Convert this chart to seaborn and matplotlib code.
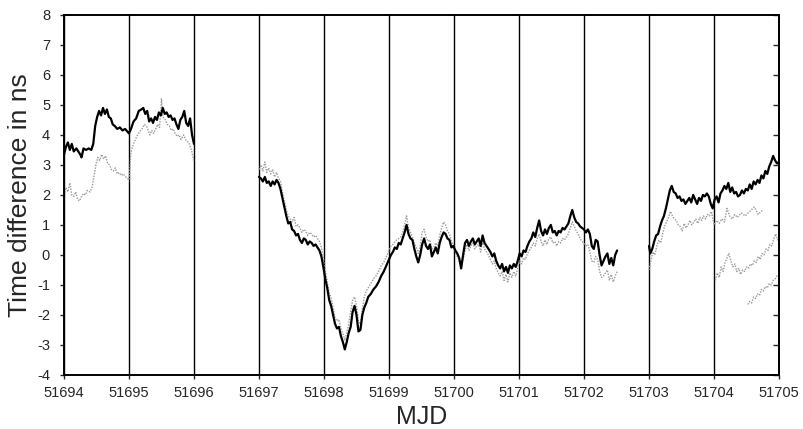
import numpy as np
import pandas as pd
import seaborn as sns
import matplotlib.pyplot as plt

# MJD offsets from 51694 and time difference (ns)
MJD0 = 51694

# black trace, three pieces
black_a = [(0.00, 3.35), (0.03, 3.60), (0.06, 3.75), (0.09, 3.50), (0.12, 3.70), (0.15, 3.45),
           (0.19, 3.55), (0.22, 3.45), (0.25, 3.35), (0.27, 3.25), (0.30, 3.55), (0.34, 3.50),
           (0.38, 3.55), (0.42, 3.50), (0.45, 3.70), (0.48, 4.30), (0.51, 4.60), (0.54, 4.80),
           (0.57, 4.65), (0.60, 4.90), (0.63, 4.70), (0.66, 4.85), (0.69, 4.60), (0.72, 4.55),
           (0.75, 4.35), (0.78, 4.30), (0.82, 4.20), (0.86, 4.25), (0.90, 4.15), (0.94, 4.20),
           (0.98, 4.10), (1.00, 4.05), (1.03, 4.20), (1.07, 4.45), (1.11, 4.55), (1.15, 4.80),
           (1.19, 4.85), (1.22, 4.90), (1.25, 4.70), (1.28, 4.80), (1.31, 4.45), (1.34, 4.55),
           (1.37, 4.40), (1.40, 4.60), (1.43, 4.50), (1.46, 4.75), (1.49, 4.65), (1.52, 4.90),
           (1.55, 4.70), (1.58, 4.75), (1.61, 4.60), (1.64, 4.65), (1.67, 4.50), (1.70, 4.55),
           (1.73, 4.35), (1.76, 4.20), (1.79, 4.50), (1.82, 4.60), (1.85, 4.80), (1.88, 4.40),
           (1.91, 4.30), (1.94, 4.55), (1.97, 4.00), (2.00, 3.70)]

black_b = [(3.00, 2.60), (3.03, 2.55), (3.06, 2.45), (3.09, 2.60), (3.12, 2.40), (3.15, 2.45),
           (3.18, 2.30), (3.21, 2.45), (3.24, 2.35), (3.27, 2.50), (3.30, 2.40), (3.33, 2.20),
           (3.36, 1.90), (3.39, 1.60), (3.42, 1.30), (3.45, 1.05), (3.48, 1.10), (3.51, 0.85),
           (3.54, 0.80), (3.57, 0.65), (3.60, 0.70), (3.63, 0.50), (3.66, 0.40), (3.69, 0.55),
           (3.72, 0.50), (3.75, 0.35), (3.78, 0.45), (3.81, 0.40), (3.84, 0.30), (3.87, 0.35),
           (3.90, 0.25), (3.93, 0.15), (3.96, -0.05), (3.99, -0.40), (4.02, -0.80), (4.05, -1.10),
           (4.08, -1.50), (4.11, -1.70), (4.14, -2.00), (4.17, -2.30), (4.20, -2.45), (4.23, -2.40),
           (4.26, -2.70), (4.29, -2.90), (4.32, -3.15), (4.35, -2.90), (4.38, -2.60), (4.41, -2.40),
           (4.44, -1.90), (4.47, -1.70), (4.50, -2.00), (4.53, -2.55), (4.56, -2.50), (4.59, -2.00),
           (4.62, -1.75), (4.65, -1.60), (4.68, -1.40), (4.72, -1.30), (4.76, -1.15), (4.80, -1.05),
           (4.84, -0.90), (4.88, -0.70), (4.92, -0.55), (4.96, -0.35), (5.00, -0.15), (5.03, 0.00),
           (5.06, 0.10), (5.09, 0.25), (5.12, 0.20), (5.15, 0.40), (5.18, 0.35), (5.21, 0.55),
           (5.24, 0.75), (5.27, 1.00), (5.30, 0.70), (5.33, 0.55), (5.36, 0.50), (5.39, 0.20),
           (5.42, -0.05), (5.45, -0.25), (5.48, 0.00), (5.51, 0.35), (5.54, 0.55), (5.57, 0.30),
           (5.60, 0.20), (5.63, 0.35), (5.66, -0.05), (5.69, 0.10), (5.72, 0.25), (5.75, 0.05),
           (5.78, 0.40), (5.81, 0.60), (5.84, 0.75), (5.87, 0.70), (5.90, 0.55), (5.93, 0.50),
           (5.96, 0.25), (5.99, 0.30), (6.02, 0.15), (6.05, 0.05), (6.08, -0.10), (6.11, -0.45),
           (6.14, 0.00), (6.17, 0.40), (6.20, 0.50), (6.23, 0.30), (6.26, 0.45), (6.29, 0.55),
           (6.32, 0.35), (6.35, 0.45), (6.38, 0.55), (6.41, 0.30), (6.44, 0.65), (6.47, 0.40),
           (6.50, 0.30), (6.53, 0.20), (6.56, 0.10), (6.59, -0.05), (6.62, 0.05), (6.65, -0.20),
           (6.68, -0.35), (6.71, -0.45), (6.74, -0.30), (6.77, -0.55), (6.80, -0.40), (6.83, -0.60),
           (6.86, -0.35), (6.89, -0.45), (6.92, -0.30), (6.95, -0.40), (6.98, -0.20), (7.01, 0.05),
           (7.04, -0.05), (7.07, 0.15), (7.10, 0.10), (7.13, 0.30), (7.16, 0.45), (7.19, 0.55),
           (7.22, 0.75), (7.25, 0.60), (7.28, 0.90), (7.31, 1.15), (7.34, 0.80), (7.37, 0.65),
           (7.40, 0.85), (7.43, 0.70), (7.46, 0.90), (7.49, 1.00), (7.52, 0.75), (7.55, 0.80),
           (7.58, 0.65), (7.61, 0.80), (7.64, 0.75), (7.67, 0.90), (7.70, 0.85), (7.73, 0.95),
           (7.76, 1.05), (7.79, 1.30), (7.82, 1.50), (7.85, 1.25), (7.88, 1.10), (7.91, 1.05),
           (7.94, 0.95), (7.97, 0.90), (8.00, 0.85), (8.03, 0.75), (8.06, 0.85), (8.09, 0.70),
           (8.12, 0.30), (8.15, 0.20), (8.18, 0.50), (8.21, 0.45), (8.24, 0.00), (8.27, -0.35),
           (8.30, -0.20), (8.33, -0.05), (8.36, 0.05), (8.39, -0.30), (8.42, -0.10), (8.45, -0.35),
           (8.48, 0.00), (8.51, 0.15)]

black_c = [(9.00, 0.30), (9.02, 0.05), (9.05, 0.20), (9.08, 0.45), (9.11, 0.65), (9.14, 0.70),
           (9.17, 0.95), (9.20, 1.15), (9.23, 1.30), (9.26, 1.55), (9.29, 1.85), (9.32, 2.15),
           (9.35, 2.30), (9.38, 2.10), (9.41, 2.05), (9.44, 1.90), (9.47, 1.95), (9.50, 1.80),
           (9.53, 1.85), (9.56, 1.70), (9.59, 1.80), (9.62, 1.90), (9.65, 1.75), (9.68, 2.00),
           (9.71, 1.85), (9.74, 1.70), (9.77, 1.90), (9.80, 1.80), (9.83, 2.00), (9.86, 1.95),
           (9.89, 2.05), (9.92, 1.95), (9.95, 1.70), (9.98, 1.55), (10.01, 1.85), (10.04, 1.95),
           (10.07, 1.75), (10.10, 2.05), (10.13, 2.15), (10.16, 2.30), (10.19, 2.20), (10.22, 2.40),
           (10.25, 2.10), (10.28, 2.25), (10.31, 2.05), (10.34, 2.10), (10.37, 1.95), (10.40, 2.00),
           (10.43, 2.15), (10.46, 2.05), (10.49, 2.20), (10.52, 2.15), (10.55, 2.35), (10.58, 2.20),
           (10.61, 2.45), (10.64, 2.35), (10.67, 2.50), (10.70, 2.40), (10.73, 2.65), (10.76, 2.55),
           (10.79, 2.80), (10.82, 2.70), (10.85, 2.95), (10.88, 3.10), (10.91, 3.30), (10.94, 3.15),
           (10.97, 3.05), (11.00, 3.10)]

# grey traces
grey_a = [(0.00, 1.90), (0.03, 2.25), (0.06, 2.10), (0.09, 2.40), (0.12, 2.00), (0.15, 1.95),
          (0.18, 2.10), (0.21, 1.85), (0.24, 1.80), (0.27, 1.95), (0.30, 2.05), (0.33, 2.00),
          (0.36, 2.15), (0.40, 2.10), (0.43, 2.25), (0.46, 2.60), (0.49, 3.00), (0.52, 3.25),
          (0.55, 3.15), (0.58, 3.35), (0.61, 3.20), (0.64, 3.30), (0.67, 3.05), (0.70, 3.00),
          (0.73, 2.85), (0.76, 2.80), (0.79, 2.90), (0.82, 2.70), (0.85, 2.75), (0.88, 2.65),
          (0.91, 2.70), (0.95, 2.60), (0.98, 2.55), (1.00, 2.50), (1.03, 3.40), (1.06, 3.65),
          (1.09, 3.80), (1.12, 3.95), (1.16, 4.10), (1.20, 4.20), (1.24, 4.35), (1.28, 4.25),
          (1.32, 4.00), (1.35, 4.15), (1.38, 4.05), (1.41, 4.20), (1.44, 4.35), (1.47, 4.25),
          (1.49, 4.90), (1.50, 5.20), (1.52, 4.60), (1.56, 4.50), (1.59, 4.35), (1.62, 4.30),
          (1.65, 4.15), (1.68, 4.20), (1.71, 4.05), (1.74, 3.95), (1.77, 4.00), (1.80, 3.85),
          (1.84, 4.00), (1.88, 3.80), (1.92, 3.75), (1.96, 3.50), (2.00, 3.10)]

grey_b = [(3.00, 2.85), (3.03, 3.00), (3.06, 2.80), (3.09, 3.10), (3.12, 2.75), (3.15, 2.90),
          (3.18, 2.70), (3.21, 2.85), (3.24, 2.60), (3.27, 2.75), (3.30, 2.55), (3.33, 2.45),
          (3.36, 2.10), (3.39, 1.80), (3.42, 1.50), (3.45, 1.30), (3.48, 1.20), (3.51, 1.10),
          (3.54, 1.25), (3.57, 0.95), (3.60, 1.00), (3.63, 0.90), (3.66, 0.75), (3.69, 0.85),
          (3.72, 0.80), (3.75, 0.65), (3.78, 0.75), (3.81, 0.70), (3.84, 0.60), (3.87, 0.65),
          (3.90, 0.55), (3.93, 0.45), (3.96, 0.25), (3.99, -0.10), (4.02, -0.50), (4.05, -0.90),
          (4.08, -1.25), (4.11, -1.45), (4.14, -1.75), (4.17, -2.10), (4.20, -2.20), (4.23, -2.15),
          (4.26, -2.45), (4.29, -2.60), (4.32, -2.85), (4.35, -2.60), (4.38, -2.30), (4.41, -1.90),
          (4.44, -1.50), (4.47, -1.40), (4.50, -1.70), (4.53, -2.20), (4.56, -2.30), (4.59, -1.80),
          (4.62, -1.40), (4.65, -1.20), (4.68, -1.10), (4.72, -0.95), (4.76, -0.80), (4.80, -0.70),
          (4.84, -0.55), (4.88, -0.35), (4.92, -0.25), (4.96, -0.05), (5.00, 0.15), (5.03, 0.30),
          (5.06, 0.35), (5.09, 0.45), (5.12, 0.50), (5.15, 0.55), (5.18, 0.60), (5.21, 0.75),
          (5.24, 1.00), (5.27, 1.30), (5.30, 0.90), (5.33, 0.75), (5.36, 0.60), (5.39, 0.40),
          (5.42, 0.25), (5.45, 0.05), (5.48, 0.30), (5.51, 0.75), (5.54, 0.85), (5.57, 0.60),
          (5.60, 0.45), (5.63, 0.50), (5.66, 0.20), (5.69, 0.25), (5.72, 0.40), (5.75, 0.30),
          (5.78, 0.65), (5.81, 0.90), (5.84, 1.10), (5.87, 1.00), (5.90, 0.80), (5.93, 0.70),
          (5.96, 0.45), (5.99, 0.35), (6.02, 0.10), (6.05, -0.05), (6.08, -0.20), (6.11, -0.40),
          (6.14, -0.15), (6.17, 0.15), (6.20, 0.35), (6.23, 0.15), (6.26, 0.30), (6.29, 0.40),
          (6.32, 0.20), (6.35, 0.30), (6.38, 0.35), (6.41, 0.10), (6.44, 0.45), (6.47, 0.20),
          (6.50, 0.10), (6.53, 0.00), (6.56, -0.15), (6.59, -0.30), (6.62, -0.20), (6.65, -0.45),
          (6.68, -0.60), (6.71, -0.70), (6.74, -0.55), (6.77, -0.85), (6.80, -0.65), (6.83, -0.90),
          (6.86, -0.60), (6.89, -0.75), (6.92, -0.55), (6.95, -0.70), (6.98, -0.45), (7.01, -0.20),
          (7.04, -0.30), (7.07, -0.10), (7.10, -0.15), (7.13, 0.05), (7.16, 0.15), (7.19, 0.25),
          (7.22, 0.40), (7.25, 0.30), (7.28, 0.55), (7.31, 0.70), (7.34, 0.45), (7.37, 0.30),
          (7.40, 0.50), (7.43, 0.35), (7.46, 0.55), (7.49, 0.60), (7.52, 0.40), (7.55, 0.45),
          (7.58, 0.30), (7.61, 0.45), (7.64, 0.40), (7.67, 0.55), (7.70, 0.50), (7.73, 0.60),
          (7.76, 0.70), (7.79, 0.90), (7.82, 1.10), (7.85, 0.95), (7.88, 0.80), (7.91, 0.70),
          (7.94, 0.55), (7.97, 0.45), (8.00, 0.40), (8.03, 0.30), (8.06, 0.35), (8.09, 0.10),
          (8.12, -0.20), (8.15, -0.25), (8.18, -0.05), (8.21, -0.15), (8.24, -0.55), (8.27, -0.75),
          (8.30, -0.70), (8.33, -0.60), (8.36, -0.50), (8.39, -0.85), (8.42, -0.65), (8.45, -0.90),
          (8.48, -0.70), (8.51, -0.55)]

grey_c = [(9.00, -0.50), (9.03, -0.20), (9.06, 0.10), (9.09, 0.00), (9.12, 0.30), (9.15, 0.50),
          (9.18, 0.40), (9.21, 0.70), (9.24, 0.95), (9.27, 1.10), (9.30, 1.25), (9.33, 1.45),
          (9.36, 1.30), (9.39, 1.20), (9.42, 1.15), (9.45, 1.00), (9.48, 0.95), (9.51, 0.80),
          (9.54, 1.05), (9.57, 0.90), (9.60, 1.00), (9.63, 1.15), (9.66, 1.00), (9.69, 1.10),
          (9.72, 1.20), (9.75, 1.05), (9.78, 1.25), (9.81, 1.15), (9.84, 1.30), (9.87, 1.20),
          (9.90, 1.35), (9.93, 1.30), (9.96, 1.45), (10.00, 1.00), (10.04, 1.15), (10.08, 1.05),
          (10.12, 1.20), (10.16, 1.10), (10.20, 1.55), (10.24, 1.30), (10.28, 1.20), (10.32, 1.35),
          (10.36, 1.25), (10.42, 1.40), (10.48, 1.30), (10.55, 1.45), (10.62, 1.60), (10.68, 1.35),
          (10.75, 1.50)]

grey_d = [(10.02, -0.85), (10.05, -0.60), (10.08, -0.75), (10.11, -0.40), (10.14, -0.55),
          (10.17, -0.25), (10.20, -0.10), (10.23, 0.05), (10.26, -0.20), (10.29, -0.40),
          (10.32, -0.30), (10.35, -0.55), (10.38, -0.45), (10.41, -0.65), (10.44, -0.50),
          (10.47, -0.55), (10.50, -0.40), (10.53, -0.45), (10.56, -0.30), (10.59, -0.35),
          (10.62, -0.20), (10.65, -0.25), (10.68, -0.05), (10.71, -0.15), (10.74, 0.05),
          (10.77, 0.00), (10.80, 0.20), (10.83, 0.15), (10.86, 0.35), (10.89, 0.30),
          (10.92, 0.55), (10.95, 0.70), (10.98, 0.50), (11.00, 0.60)]

grey_e = [(10.52, -1.65), (10.55, -1.55), (10.58, -1.60), (10.61, -1.40), (10.64, -1.45),
          (10.67, -1.30), (10.70, -1.35), (10.73, -1.15), (10.76, -1.20), (10.79, -1.05),
          (10.82, -1.10), (10.85, -0.95), (10.88, -1.00), (10.91, -0.85), (10.94, -0.80),
          (10.97, -0.70), (11.00, -0.75)]

x_ticks = list(range(51694, 51706))
y_ticks = list(range(-4, 9))


def to_frame(pieces):
    rows = []
    for k, piece in enumerate(pieces):
        for d, v in piece:
            rows.append({"mjd": MJD0 + d, "ns": v, "seg": k})
    return pd.DataFrame(rows)


df_black = to_frame([black_a, black_b, black_c])
df_grey = to_frame([grey_a, grey_b, grey_c, grey_d, grey_e])

sns.set_style("ticks")
plt.rcParams["font.family"] = ["Liberation Sans", "DejaVu Sans"]
plt.rcParams["axes.unicode_minus"] = False

fig = plt.figure(figsize=(8.04, 4.29), dpi=100)
ax = fig.add_axes([0.0796, 0.126, 0.8893, 0.8392])

# grey first, black on top
sns.lineplot(data=df_grey, x="mjd", y="ns", units="seg", estimator=None, sort=False,
             color="0.6", lw=1.0, linestyle=(0, (1, 1)), ax=ax)
sns.lineplot(data=df_black, x="mjd", y="ns", units="seg", estimator=None, sort=False,
             color="black", lw=1.6, ax=ax)

ax.set_xlim(51694, 51705)
ax.set_ylim(-4, 8)
ax.set_xticks(x_ticks)
ax.set_xticklabels([str(t) for t in x_ticks])
ax.set_yticks(y_ticks)
ax.grid(axis="x", color="black", lw=1.0)
ax.grid(axis="y", visible=False)

for s in ax.spines.values():
    s.set_visible(True)
    s.set_color("black")
    s.set_linewidth(1.4)

ax.tick_params(axis="x", direction="out", length=3, width=1, pad=5, labelsize=10.5)
ax.tick_params(axis="y", direction="out", length=3, width=1, pad=7, labelsize=10.5)

sec = ax.secondary_yaxis("right")
sec.set_yticks(y_ticks)
sec.tick_params(direction="in", length=4, width=1, labelright=False)
sec.spines["right"].set_linewidth(1.4)

ax.set_xlabel("MJD", fontsize=18, va="top")
ax.set_ylabel("Time difference in ns", fontsize=19)
ax.xaxis.set_label_coords(0.5, -0.083)
ax.yaxis.set_label_coords(-0.045, 0.5)

fig.savefig("out.png", dpi=100)
